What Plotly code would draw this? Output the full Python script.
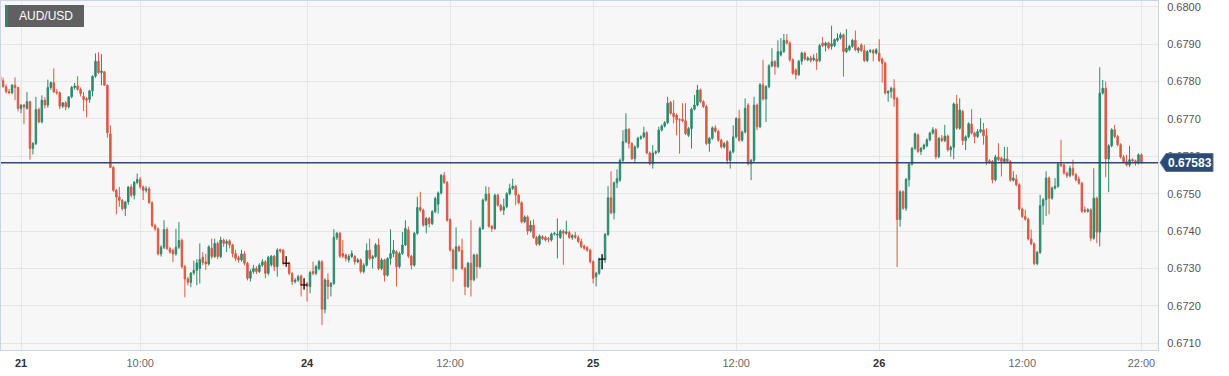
import plotly.graph_objects as go

# prices in pips (0.0001); value 6781.4 means 0.67814
opens = [
 6781.4, 6780.2, 6778.6, 6777.3, 6777.0, 6779.0, 6778.4, 6772.8, 6773.7, 6772.8,
 6774.6, 6762.1, 6763.4, 6772.5, 6769.2, 6775.0, 6773.7, 6778.4, 6779.7, 6777.2,
 6777.0, 6773.4, 6774.3, 6773.2, 6775.9, 6778.4, 6778.8, 6777.9, 6776.0, 6775.4,
 6775.2, 6777.5, 6781.4, 6785.4, 6782.4, 6782.6, 6779.0, 6766.0, 6757.0, 6750.9,
 6749.1, 6748.2, 6746.0, 6747.8, 6751.8, 6749.6, 6753.0, 6753.8, 6751.8, 6750.9,
 6751.3, 6747.6, 6741.5, 6740.6, 6733.9, 6735.7, 6740.4, 6735.3, 6734.8, 6733.9,
 6735.7, 6737.5, 6730.5, 6727.2, 6726.3, 6728.8, 6729.5, 6730.0, 6733.0, 6731.8,
 6731.2, 6735.4, 6733.2, 6736.7, 6733.2, 6737.6, 6736.7, 6737.4, 6736.3, 6734.0,
 6732.9, 6732.3, 6733.9, 6731.4, 6727.4, 6729.2, 6730.0, 6729.2, 6730.9, 6731.8,
 6728.7, 6731.0, 6733.3, 6730.5, 6735.1, 6734.9, 6731.4, 6731.4, 6728.7, 6726.5,
 6726.9, 6728.0, 6725.6, 6726.0, 6725.2, 6729.2, 6728.7, 6730.0, 6731.8, 6719.1,
 6726.9, 6725.2, 6726.0, 6738.3, 6739.4, 6734.0, 6733.6, 6732.3, 6733.2, 6733.2,
 6731.8, 6732.3, 6729.2, 6730.9, 6734.9, 6732.7, 6733.2, 6736.3, 6730.0, 6732.3,
 6728.2, 6732.7, 6734.0, 6734.5, 6730.5, 6734.0, 6736.3, 6740.3, 6733.3, 6730.9,
 6739.4, 6746.3, 6745.6, 6741.6, 6743.4, 6742.0, 6745.2, 6747.2, 6750.2, 6754.9,
 6753.0, 6743.1, 6734.9, 6730.0, 6735.8, 6734.8, 6730.0, 6725.2, 6731.4, 6727.0,
 6733.6, 6730.5, 6740.7, 6748.3, 6749.9, 6741.3, 6740.7, 6749.6, 6746.9, 6745.6,
 6746.5, 6750.0, 6751.4, 6752.0, 6749.6, 6747.6, 6742.5, 6743.8, 6740.0, 6741.6,
 6738.3, 6736.5, 6738.5, 6738.3, 6738.0, 6737.6, 6739.2, 6738.9, 6738.3, 6740.0,
 6739.4, 6739.6, 6738.3, 6738.9, 6738.3, 6737.2, 6736.0, 6735.6, 6734.9, 6731.8,
 6727.8, 6728.7, 6732.5, 6732.4, 6739.1, 6748.9, 6744.9, 6752.9, 6753.6, 6758.9,
 6763.9, 6767.2, 6763.4, 6759.4, 6762.5, 6764.8, 6765.2, 6766.3, 6760.9, 6758.0,
 6760.9, 6761.2, 6767.0, 6768.1, 6769.0, 6774.4, 6771.5, 6771.0, 6769.8, 6769.9,
 6769.5, 6765.6, 6767.4, 6772.6, 6773.7, 6777.7, 6774.6, 6773.3, 6763.4, 6764.8,
 6767.6, 6766.7, 6764.3, 6762.5, 6763.9, 6758.9, 6761.2, 6765.2, 6770.1, 6764.3,
 6766.5, 6773.7, 6758.0, 6758.9, 6773.7, 6767.9, 6779.1, 6775.3, 6778.6, 6784.2,
 6785.3, 6784.0, 6787.1, 6788.0, 6791.0, 6790.3, 6785.8, 6783.1, 6781.8, 6785.4,
 6787.6, 6785.8, 6786.3, 6785.8, 6786.0, 6785.6, 6790.3, 6789.6, 6790.3, 6789.4,
 6789.6, 6791.0, 6791.6, 6792.5, 6788.0, 6788.5, 6789.4, 6791.0, 6788.3, 6789.8,
 6788.3, 6785.6, 6788.0, 6788.3, 6787.6, 6787.6, 6786.0, 6784.9, 6776.9, 6777.3,
 6778.2, 6775.5, 6743.1, 6750.5, 6746.1, 6753.8, 6757.9, 6762.1, 6765.7, 6761.3,
 6762.1, 6762.8, 6764.4, 6766.2, 6767.1, 6759.9, 6764.8, 6764.2, 6765.4, 6761.7,
 6762.4, 6774.0, 6767.5, 6772.0, 6764.2, 6765.2, 6768.6, 6766.2, 6765.3, 6766.6,
 6767.1, 6765.5, 6758.8, 6758.6, 6753.7, 6759.8, 6759.5, 6758.6, 6759.3, 6758.6,
 6753.6, 6753.9, 6752.4, 6745.9, 6743.9, 6743.2, 6737.9, 6736.6, 6731.3, 6734.3,
 6746.8, 6748.4, 6754.2, 6748.8, 6751.5, 6752.0, 6758.0, 6757.7, 6755.5, 6754.8,
 6756.8, 6755.1, 6753.9, 6752.8, 6745.7, 6745.3, 6745.7, 6738.1, 6748.8, 6739.7,
 6776.9, 6778.2, 6759.3, 6762.8, 6767.1, 6765.3, 6763.1, 6759.8, 6758.6, 6757.7,
 6759.1, 6758.8, 6758.2, 6760.4,
]
highs = [
 6781.8, 6781.0, 6779.2, 6778.0, 6779.3, 6781.1, 6778.6, 6773.9, 6774.0, 6777.2,
 6774.8, 6763.8, 6775.9, 6773.0, 6776.3, 6775.8, 6780.5, 6780.0, 6783.5, 6778.0,
 6777.3, 6774.5, 6774.8, 6776.0, 6778.8, 6779.6, 6781.4, 6778.4, 6777.2, 6775.8,
 6777.8, 6781.6, 6787.5, 6787.8, 6787.3, 6782.8, 6779.2, 6768.3, 6757.4, 6751.3,
 6751.8, 6748.6, 6748.0, 6752.0, 6752.5, 6753.4, 6755.4, 6754.5, 6752.2, 6752.0,
 6751.8, 6748.0, 6742.0, 6741.0, 6736.2, 6742.9, 6741.0, 6735.8, 6735.3, 6740.6,
 6742.4, 6738.0, 6731.0, 6727.8, 6729.0, 6732.1, 6732.5, 6736.7, 6734.4, 6733.9,
 6736.2, 6738.0, 6738.0, 6737.2, 6738.5, 6738.0, 6737.8, 6737.8, 6736.6, 6735.0,
 6733.4, 6735.0, 6734.6, 6731.8, 6729.8, 6731.0, 6730.6, 6731.4, 6732.5, 6732.2,
 6733.4, 6733.6, 6733.6, 6735.4, 6735.3, 6735.2, 6733.3, 6731.8, 6729.0, 6727.4,
 6728.3, 6728.4, 6727.4, 6726.4, 6729.4, 6731.8, 6731.0, 6732.3, 6732.2, 6727.4,
 6728.7, 6726.4, 6740.5, 6739.8, 6739.8, 6737.6, 6734.0, 6733.8, 6734.9, 6733.6,
 6732.8, 6732.7, 6731.4, 6736.7, 6738.0, 6733.6, 6736.8, 6738.0, 6732.8, 6732.6,
 6733.0, 6740.5, 6737.6, 6734.9, 6734.5, 6739.8, 6742.9, 6741.2, 6733.6, 6739.8,
 6749.2, 6750.5, 6746.0, 6743.8, 6743.8, 6745.6, 6749.2, 6750.6, 6755.3, 6755.8,
 6753.4, 6743.4, 6735.3, 6741.0, 6736.2, 6738.0, 6730.4, 6731.8, 6742.9, 6734.0,
 6734.0, 6741.2, 6748.7, 6752.0, 6751.8, 6741.6, 6750.0, 6750.0, 6747.2, 6748.7,
 6750.4, 6752.7, 6754.0, 6752.4, 6750.0, 6748.0, 6744.2, 6744.2, 6742.8, 6743.1,
 6738.7, 6739.1, 6738.9, 6738.7, 6738.4, 6739.6, 6739.8, 6743.4, 6740.4, 6740.4,
 6742.8, 6740.1, 6739.2, 6739.8, 6738.9, 6738.0, 6736.4, 6736.0, 6735.3, 6732.2,
 6729.1, 6732.9, 6733.8, 6739.5, 6752.0, 6756.0, 6753.3, 6756.5, 6759.4, 6767.0,
 6771.5, 6767.5, 6763.8, 6762.9, 6765.2, 6765.6, 6767.9, 6766.7, 6761.3, 6763.0,
 6761.6, 6767.9, 6768.5, 6769.4, 6775.9, 6774.8, 6775.0, 6771.4, 6770.2, 6774.2,
 6774.2, 6767.8, 6773.0, 6776.4, 6779.1, 6778.1, 6775.0, 6773.7, 6765.2, 6768.0,
 6768.3, 6767.1, 6764.7, 6763.8, 6764.3, 6761.6, 6768.3, 6770.5, 6772.4, 6766.9,
 6775.5, 6774.2, 6759.3, 6775.9, 6774.1, 6779.6, 6785.8, 6779.0, 6784.6, 6788.9,
 6785.7, 6791.0, 6791.6, 6792.7, 6792.7, 6790.7, 6786.2, 6783.5, 6785.8, 6788.0,
 6788.0, 6786.7, 6786.9, 6787.3, 6787.6, 6790.0, 6791.9, 6790.6, 6790.6, 6794.9,
 6791.5, 6792.9, 6793.1, 6792.8, 6794.0, 6789.8, 6791.4, 6793.6, 6789.3, 6790.2,
 6789.8, 6788.4, 6788.7, 6788.7, 6788.9, 6791.3, 6786.4, 6785.3, 6777.7, 6778.6,
 6780.6, 6775.9, 6750.9, 6750.9, 6754.2, 6758.3, 6762.5, 6766.3, 6766.1, 6762.5,
 6763.4, 6764.8, 6766.6, 6767.8, 6767.5, 6765.2, 6765.7, 6768.4, 6765.8, 6762.8,
 6774.4, 6776.4, 6775.5, 6772.4, 6765.6, 6769.1, 6772.6, 6766.6, 6767.3, 6770.2,
 6768.9, 6767.5, 6759.2, 6759.0, 6760.4, 6763.5, 6759.9, 6762.5, 6762.5, 6759.0,
 6756.0, 6755.1, 6752.8, 6746.3, 6745.7, 6743.6, 6740.4, 6737.0, 6734.7, 6749.7,
 6748.8, 6756.0, 6754.6, 6751.9, 6754.2, 6758.4, 6764.4, 6758.0, 6755.9, 6757.5,
 6759.1, 6755.5, 6754.6, 6753.2, 6746.6, 6746.1, 6746.1, 6756.8, 6749.2, 6783.8,
 6780.4, 6780.0, 6763.2, 6767.5, 6768.4, 6765.7, 6763.5, 6760.4, 6760.4, 6762.8,
 6759.5, 6759.1, 6760.8, 6760.8,
]
lows = [
 6779.8, 6778.4, 6776.8, 6776.6, 6776.6, 6775.0, 6772.0, 6771.5, 6768.6, 6772.5,
 6759.1, 6760.5, 6763.0, 6768.8, 6768.8, 6772.8, 6773.0, 6777.8, 6777.0, 6776.5,
 6772.6, 6772.9, 6772.3, 6772.8, 6775.5, 6777.8, 6777.5, 6776.0, 6772.1, 6770.4,
 6774.3, 6776.0, 6781.0, 6782.0, 6779.0, 6778.8, 6765.0, 6756.8, 6750.5, 6744.5,
 6746.5, 6745.5, 6744.0, 6747.0, 6749.0, 6748.5, 6752.5, 6751.3, 6748.3, 6750.3,
 6747.3, 6741.0, 6740.0, 6733.5, 6733.2, 6735.2, 6735.0, 6734.0, 6731.7, 6733.4,
 6735.2, 6730.0, 6722.3, 6725.5, 6725.0, 6728.2, 6725.5, 6726.0, 6730.9, 6729.6,
 6730.8, 6732.6, 6732.8, 6732.5, 6732.8, 6735.8, 6734.4, 6735.4, 6733.0, 6732.0,
 6731.6, 6731.8, 6730.8, 6726.8, 6726.5, 6728.6, 6728.5, 6728.8, 6730.4, 6727.4,
 6728.2, 6730.5, 6729.3, 6727.8, 6734.2, 6730.8, 6730.5, 6728.2, 6725.6, 6726.0,
 6726.4, 6722.5, 6724.4, 6721.2, 6723.4, 6728.2, 6728.2, 6729.5, 6714.9, 6718.0,
 6721.8, 6722.5, 6725.6, 6737.6, 6732.8, 6732.8, 6731.9, 6731.6, 6732.8, 6731.0,
 6731.4, 6728.7, 6728.7, 6730.5, 6732.2, 6730.0, 6732.8, 6729.6, 6729.5, 6726.5,
 6727.8, 6731.0, 6733.0, 6725.2, 6730.0, 6733.6, 6736.0, 6732.8, 6729.8, 6730.5,
 6739.0, 6745.2, 6741.2, 6739.4, 6741.0, 6741.6, 6744.8, 6744.7, 6749.8, 6752.6,
 6742.5, 6734.5, 6726.5, 6729.6, 6734.4, 6729.6, 6722.9, 6724.8, 6722.5, 6726.6,
 6727.4, 6730.0, 6740.3, 6747.9, 6740.9, 6739.8, 6740.3, 6746.5, 6745.2, 6744.3,
 6746.1, 6749.6, 6751.0, 6746.9, 6747.2, 6742.1, 6742.1, 6739.0, 6739.6, 6737.9,
 6736.1, 6736.1, 6737.6, 6737.2, 6737.0, 6737.2, 6738.8, 6732.7, 6737.9, 6731.0,
 6739.0, 6737.9, 6737.6, 6737.9, 6736.8, 6735.4, 6735.0, 6734.5, 6731.4, 6726.0,
 6725.2, 6728.3, 6729.8, 6731.5, 6738.7, 6744.5, 6743.1, 6751.5, 6753.2, 6758.5,
 6763.5, 6762.1, 6759.0, 6758.5, 6762.1, 6764.4, 6764.8, 6760.5, 6757.6, 6756.7,
 6760.5, 6760.8, 6766.6, 6767.7, 6768.6, 6771.1, 6768.8, 6765.6, 6760.7, 6769.1,
 6765.7, 6765.2, 6762.1, 6772.2, 6773.3, 6774.2, 6772.9, 6763.0, 6761.2, 6764.4,
 6766.3, 6763.9, 6762.1, 6762.1, 6757.9, 6756.7, 6760.8, 6764.8, 6763.9, 6763.9,
 6766.1, 6757.6, 6753.6, 6758.5, 6767.0, 6767.5, 6774.9, 6769.2, 6778.2, 6783.8,
 6781.8, 6783.6, 6786.7, 6787.6, 6789.9, 6785.3, 6781.8, 6780.6, 6781.5, 6784.5,
 6785.6, 6785.4, 6785.1, 6785.4, 6783.1, 6785.2, 6789.2, 6788.0, 6788.6, 6788.5,
 6789.2, 6790.6, 6791.2, 6781.3, 6787.6, 6788.1, 6789.0, 6788.1, 6787.6, 6787.9,
 6785.2, 6785.2, 6787.6, 6785.4, 6787.2, 6785.2, 6779.7, 6776.5, 6774.6, 6775.6,
 6773.3, 6730.4, 6741.2, 6745.7, 6745.4, 6751.9, 6757.5, 6761.7, 6760.9, 6760.4,
 6761.7, 6762.4, 6764.0, 6765.8, 6759.2, 6759.5, 6763.8, 6763.8, 6761.3, 6759.9,
 6759.2, 6767.1, 6767.1, 6763.0, 6761.7, 6764.8, 6765.8, 6763.5, 6764.9, 6766.2,
 6763.1, 6757.7, 6758.0, 6752.8, 6753.3, 6758.7, 6754.6, 6758.2, 6758.2, 6753.2,
 6753.2, 6752.0, 6745.5, 6743.5, 6742.8, 6737.5, 6736.2, 6730.9, 6730.9, 6733.9,
 6741.7, 6744.0, 6744.5, 6748.4, 6751.1, 6751.6, 6757.1, 6755.1, 6754.2, 6754.4,
 6754.7, 6753.3, 6752.4, 6744.9, 6744.9, 6744.9, 6737.3, 6737.7, 6736.8, 6735.9,
 6776.5, 6754.4, 6750.4, 6762.4, 6764.9, 6762.7, 6759.4, 6758.2, 6757.3, 6757.1,
 6758.4, 6757.5, 6757.8, 6758.0,
]
closes = [
 6780.2, 6778.6, 6777.3, 6777.0, 6779.0, 6778.4, 6772.8, 6773.7, 6773.2, 6774.6,
 6762.1, 6763.4, 6772.5, 6769.2, 6775.0, 6773.7, 6778.4, 6779.7, 6777.2, 6777.0,
 6773.4, 6774.3, 6773.2, 6775.9, 6778.4, 6778.8, 6777.9, 6776.8, 6775.2, 6775.0,
 6777.5, 6781.4, 6785.4, 6782.4, 6782.8, 6779.0, 6766.3, 6757.0, 6750.9, 6749.1,
 6748.2, 6746.0, 6747.8, 6751.8, 6749.6, 6753.1, 6753.8, 6751.8, 6750.9, 6751.3,
 6747.6, 6741.5, 6740.6, 6733.9, 6735.7, 6740.4, 6735.3, 6734.4, 6733.9, 6735.7,
 6737.5, 6730.5, 6727.2, 6726.3, 6728.8, 6729.5, 6731.5, 6732.4, 6731.6, 6731.2,
 6735.8, 6733.2, 6736.7, 6733.2, 6737.6, 6736.7, 6737.2, 6736.3, 6734.0, 6732.7,
 6732.3, 6733.9, 6731.4, 6727.4, 6729.2, 6730.0, 6729.2, 6730.9, 6731.8, 6728.7,
 6733.0, 6733.3, 6730.5, 6734.9, 6734.7, 6731.4, 6731.4, 6728.7, 6726.5, 6726.9,
 6727.8, 6725.6, 6725.6, 6725.2, 6728.9, 6728.7, 6730.5, 6731.8, 6719.1, 6726.9,
 6725.2, 6726.0, 6738.3, 6739.4, 6733.3, 6733.3, 6732.7, 6733.2, 6734.0, 6731.8,
 6732.3, 6729.2, 6730.9, 6734.8, 6732.7, 6733.2, 6736.3, 6730.0, 6732.3, 6728.2,
 6732.7, 6734.0, 6734.9, 6730.5, 6734.0, 6736.3, 6740.7, 6733.3, 6730.9, 6739.4,
 6746.3, 6745.6, 6741.6, 6743.4, 6742.0, 6745.2, 6748.7, 6750.2, 6754.9, 6753.0,
 6742.9, 6734.9, 6730.0, 6735.8, 6734.8, 6730.0, 6725.2, 6731.4, 6727.0, 6733.6,
 6730.5, 6740.7, 6748.3, 6749.9, 6741.3, 6740.7, 6749.6, 6746.9, 6745.6, 6746.5,
 6750.0, 6751.4, 6752.0, 6749.6, 6747.6, 6742.5, 6743.8, 6740.0, 6741.6, 6738.3,
 6736.5, 6738.7, 6738.0, 6737.6, 6737.8, 6739.2, 6739.4, 6739.2, 6740.0, 6739.4,
 6739.8, 6738.3, 6738.8, 6738.3, 6737.2, 6735.8, 6735.4, 6734.9, 6731.8, 6727.4,
 6728.7, 6732.5, 6732.5, 6739.1, 6748.9, 6744.9, 6752.9, 6754.0, 6758.9, 6763.9,
 6767.2, 6763.4, 6759.4, 6762.5, 6764.8, 6765.2, 6766.3, 6760.9, 6758.0, 6760.9,
 6761.2, 6767.0, 6768.1, 6769.0, 6774.2, 6771.5, 6770.6, 6769.8, 6769.7, 6769.5,
 6766.1, 6767.4, 6772.6, 6773.7, 6777.7, 6774.6, 6773.3, 6763.4, 6764.8, 6767.6,
 6766.7, 6764.3, 6762.5, 6763.4, 6758.9, 6761.2, 6765.2, 6770.1, 6764.3, 6766.5,
 6772.8, 6758.0, 6758.9, 6773.7, 6767.9, 6779.1, 6775.3, 6778.6, 6784.2, 6785.3,
 6784.0, 6788.0, 6788.0, 6791.0, 6790.3, 6785.8, 6782.2, 6781.8, 6785.4, 6787.6,
 6786.0, 6786.3, 6785.6, 6786.3, 6785.4, 6789.6, 6789.6, 6790.3, 6789.0, 6790.1,
 6791.2, 6791.6, 6792.5, 6788.0, 6788.9, 6789.4, 6791.0, 6788.5, 6788.9, 6788.3,
 6785.6, 6788.0, 6788.3, 6787.6, 6788.5, 6785.6, 6784.9, 6776.9, 6777.3, 6778.2,
 6775.3, 6743.1, 6750.5, 6746.1, 6753.8, 6757.9, 6762.1, 6766.0, 6761.3, 6762.1,
 6763.0, 6764.4, 6766.2, 6767.1, 6759.9, 6764.8, 6764.2, 6765.4, 6761.7, 6762.4,
 6774.0, 6767.5, 6772.4, 6764.2, 6765.2, 6768.7, 6766.2, 6765.3, 6766.6, 6767.1,
 6765.5, 6758.6, 6758.4, 6753.7, 6759.8, 6759.1, 6758.6, 6759.3, 6758.6, 6753.6,
 6754.2, 6752.4, 6745.9, 6743.9, 6743.2, 6737.9, 6736.6, 6731.3, 6734.3, 6746.8,
 6748.4, 6754.2, 6748.8, 6751.5, 6752.0, 6758.0, 6757.5, 6755.5, 6754.8, 6756.8,
 6755.1, 6753.7, 6752.8, 6745.3, 6745.3, 6745.7, 6738.1, 6748.8, 6739.7, 6776.9,
 6778.2, 6759.3, 6762.8, 6767.1, 6765.3, 6763.1, 6759.8, 6758.6, 6757.7, 6759.1,
 6758.8, 6758.2, 6760.4, 6758.3,
]
doji_index = [96, 102, 202]

# 15-minute candles, index 7 = 21st 00:00
tick_index = [7, 47, 103, 151, 199, 247, 295, 343, 383]
tick_labels = ["21", "10:00", "24", "12:00", "25", "12:00", "26", "12:00", "22:00"]
day_labels = {"21", "24", "25", "26"}
price_ticks = [0.6710, 0.6720, 0.6730, 0.6740, 0.6750, 0.6760, 0.6770, 0.6780, 0.6790, 0.6800]
last_price = 0.67583
symbol = "AUD/USD"

n = len(opens)
assert len(highs) == n and len(lows) == n and len(closes) == n, (n, len(highs), len(lows), len(closes))

PIP = 10000.0
o = [v / PIP for v in opens]
h = [v / PIP for v in highs]
l = [v / PIP for v in lows]
c = [v / PIP for v in closes]
x = list(range(n))

GREEN = "#2b8a6e"
RED = "#d95a44"
NAVY = "#2b4a76"
FONT = "Liberation Sans, Arial, sans-serif"

fig = go.Figure()
fig.add_trace(go.Candlestick(
    x=x, open=o, high=h, low=l, close=c,
    increasing=dict(line=dict(color=GREEN, width=1), fillcolor=GREEN),
    decreasing=dict(line=dict(color=RED, width=1), fillcolor=RED),
    whiskerwidth=0, hoverinfo="skip", showlegend=False,
))
dx = [x[i] for i in doji_index]
dc = [c[i] for i in doji_index]
fig.add_trace(go.Scatter(
    x=dx, y=dc, mode="markers",
    marker=dict(symbol="line-ew", size=5, line=dict(color="#111111", width=1.2)),
    error_y=dict(type="data", symmetric=False,
                 array=[h[i] - c[i] for i in doji_index],
                 arrayminus=[c[i] - l[i] for i in doji_index],
                 color="#111111", thickness=1.2, width=0),
    hoverinfo="skip", showlegend=False,
))

ticktext = []
for t in tick_labels:
    if t in day_labels:
        ticktext.append("<b><span style='color:#333333'>%s</span></b>" % t)
    else:
        ticktext.append(t)

W, H = 1229, 376
ML, MR, MT, MB = 1, 71, 1, 26
pw = W - ML - MR
ph = H - MT - MB

def xp(px):
    return (px - ML) / pw

def yp(py):
    return (H - MB - py) / ph

fig.update_layout(
    width=W, height=H,
    margin=dict(l=ML, r=MR, t=MT, b=MB),
    paper_bgcolor="white", plot_bgcolor="#f7f7f7",
    font=dict(family=FONT, size=11, color="#666666"),
    xaxis=dict(
        range=[0.29, 388.55], rangeslider=dict(visible=False),
        tickmode="array", tickvals=tick_index, ticktext=ticktext,
        showgrid=True, gridcolor="#e6e6e6", gridwidth=1, zeroline=False,
        showline=True, linecolor="#cdd4e6", linewidth=1, mirror=True,
        ticks="outside", ticklen=3, tickcolor="rgba(0,0,0,0)",
        tickfont=dict(family=FONT, size=11, color="#6a6a6a"),
        fixedrange=True,
    ),
    yaxis=dict(
        range=[0.670821, 0.680152], side="right",
        tickmode="array", tickvals=price_ticks,
        ticktext=["%.4f" % v for v in price_ticks],
        showgrid=True, gridcolor="#e6e6e6", gridwidth=1, zeroline=False,
        showline=True, linecolor="#cdd4e6", linewidth=1, mirror=True,
        ticks="outside", ticklen=6, tickcolor="rgba(0,0,0,0)",
        tickfont=dict(family=FONT, size=11, color="#555555"),
        fixedrange=True,
    ),
    shapes=[
        dict(type="line", xref="paper", yref="y", x0=0, x1=1,
             y0=last_price, y1=last_price, line=dict(color=NAVY, width=1.5)),
        dict(type="path", xref="paper", yref="paper",
             path="M %f,%f L %f,%f L %f,%f L %f,%f L %f,%f Z" % (
                 xp(1160), yp(162.5), xp(1166), yp(153.5), xp(1213), yp(153.5),
                 xp(1213), yp(171.5), xp(1166), yp(171.5)),
             fillcolor=NAVY, line=dict(color="#5a7398", width=1), layer="above"),
        dict(type="rect", xref="paper", yref="paper",
             x0=xp(5), x1=xp(84), y0=yp(27), y1=yp(5),
             fillcolor="#606060", line=dict(width=0), layer="above"),
        dict(type="rect", xref="paper", yref="paper",
             x0=xp(5), x1=xp(8), y0=yp(27), y1=yp(5),
             fillcolor=GREEN, line=dict(width=0), layer="above"),
    ],
    annotations=[
        dict(xref="paper", yref="paper", x=xp(1189.5), y=yp(162.5),
             text="<b>%.5f</b>" % last_price, showarrow=False,
             font=dict(family=FONT, size=12, color="white"),
             xanchor="center", yanchor="middle"),
        dict(xref="paper", yref="paper", x=xp(46), y=yp(16),
             text=symbol, showarrow=False,
             font=dict(family=FONT, size=12, color="white"),
             xanchor="center", yanchor="middle"),
    ],
)

fig.write_html("out.html")
